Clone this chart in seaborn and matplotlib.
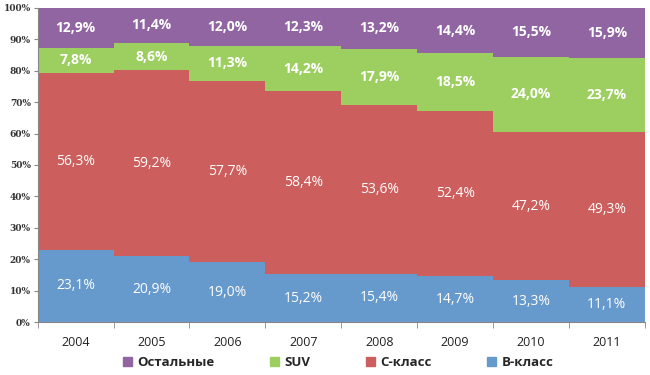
import matplotlib
matplotlib.use("Agg")
import matplotlib.pyplot as plt
from matplotlib.ticker import FixedLocator
from matplotlib.patches import Patch
import numpy as np
import pandas as pd
import seaborn as sns

years = ["2004", "2005", "2006", "2007", "2008", "2009", "2010", "2011"]
b_class = [23.1, 20.9, 19.0, 15.2, 15.4, 14.7, 13.3, 11.1]
c_class = [56.3, 59.2, 57.7, 58.4, 53.6, 52.4, 47.2, 49.3]
suv = [7.8, 8.6, 11.3, 14.2, 17.9, 18.5, 24.0, 23.7]
others = [12.9, 11.4, 12.0, 12.3, 13.2, 14.4, 15.5, 15.9]

series_names = ["B-класс", "C-класс", "SUV", "Остальные"]
colors = ["#6699cc", "#cc5f5d", "#9ccf60", "#9164a2"]

df = pd.DataFrame({"year": years, "B-класс": b_class, "C-класс": c_class,
                   "SUV": suv, "Остальные": others})
cum = df[series_names].cumsum(axis=1)

sns.set_style("white")
fig, ax = plt.subplots(figsize=(6.5, 3.75), dpi=100)
fig.subplots_adjust(left=0.058, right=0.992, bottom=0.141, top=0.979)

# draw cumulative layers, top layer first so lower ones cover it
for name, col in reversed(list(zip(series_names, colors))):
    sns.barplot(x=df["year"], y=cum[name], color=col, width=1.0,
                saturation=1, ax=ax, linewidth=0)

# value labels
for i in range(len(years)):
    base = 0
    for name in series_names:
        v = df[name][i]
        weight = "bold" if name in ("Остальные", "SUV") else "normal"
        ax.text(i, base + v / 2, f"{v:.1f}%".replace(".", ","),
                ha="center", va="center", color="white", fontsize=10,
                fontweight=weight, family="Open Sans")
        base += v

ax.set_ylim(0, 100)
ax.set_xlim(-0.5, len(years) - 0.5)
ax.set_yticks(np.arange(0, 101, 10))
ax.set_yticklabels([f"{t}%" for t in range(0, 101, 10)], family="DejaVu Serif",
                   fontsize=6.5, fontweight="bold", color="#333333")
ax.set_xticklabels(years, family="Open Sans", fontsize=9, color="#222222")
ax.xaxis.set_minor_locator(FixedLocator(np.arange(-0.5, len(years), 1)))
ax.tick_params(axis="x", which="major", length=0, pad=10)
ax.tick_params(axis="x", which="minor", length=4, color="#888888", bottom=True)
ax.tick_params(axis="y", length=3, color="#888888", left=True, pad=2)
ax.set_xlabel("")
ax.set_ylabel("")
for s in ["top", "right"]:
    ax.spines[s].set_visible(False)
ax.spines["left"].set_color("#888888")
ax.spines["bottom"].set_color("#888888")

handles = [Patch(color=c, label=n) for n, c in zip(series_names, colors)][::-1]
fig.legend(handles=handles, loc="center", bbox_to_anchor=(0.52, 0.033),
           ncol=4, frameon=False, handlelength=0.7, handleheight=0.7,
           columnspacing=4.2, handletextpad=0.4, borderaxespad=0,
           prop={"family": "Open Sans", "size": 9.5, "weight": "bold"})

fig.savefig("out.png", dpi=100)
